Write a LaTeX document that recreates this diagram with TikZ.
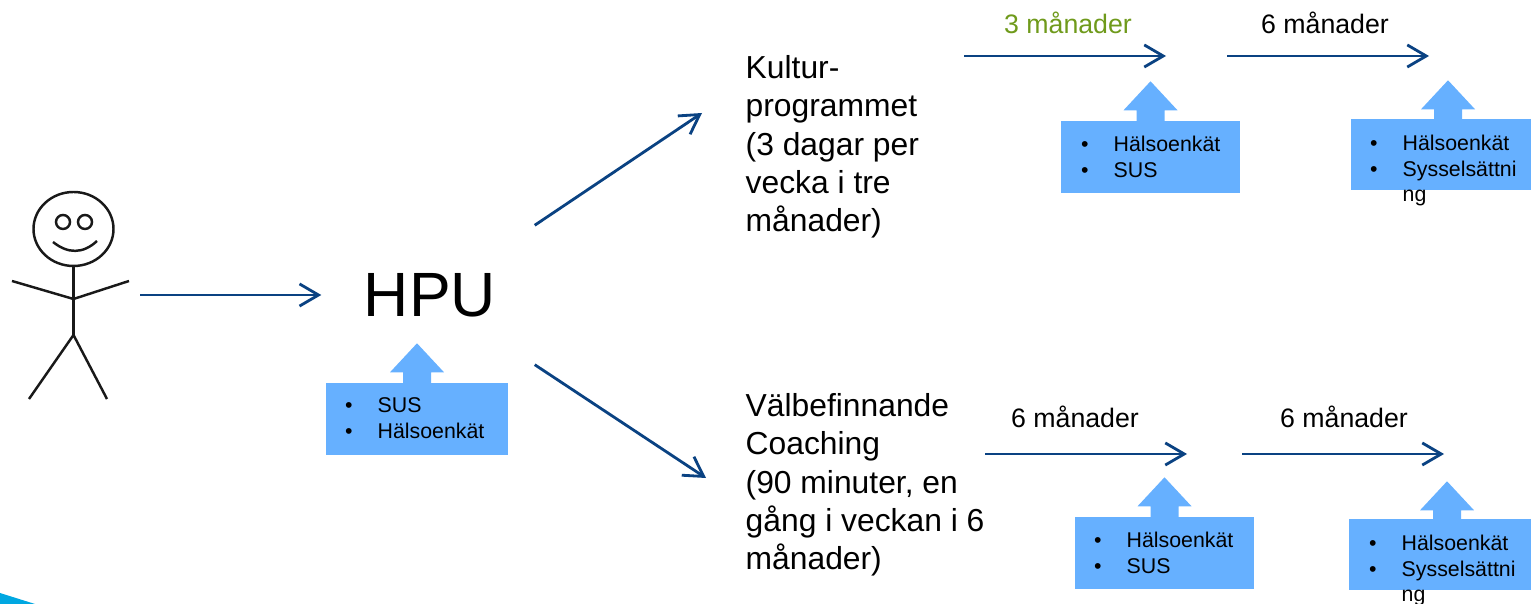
\documentclass[tikz,border=0pt]{standalone}
\usepackage{fontspec}
\setmainfont{Liberation Sans}
\usetikzlibrary{arrows.meta}

\definecolor{flowblue}{HTML}{0A4282}
\definecolor{obsblue}{HTML}{66B0FF}
\definecolor{swoosh}{HTML}{00A7E1}
\definecolor{monthgreen}{HTML}{6F9A1B}

\tikzset{
    figure/.style={draw=black!90, line width=0.7pt},
    flow/.style={draw=flowblue, line width=0.8pt, -{Straight Barb[length=5.4pt,width=6.3pt]}},
    program/.style={anchor=west, align=left, font=\fontsize{9.05}{10.9}\selectfont},
    months/.style={font=\fontsize{7.6}{9}\selectfont, inner sep=0pt},
    obsbox/.style={fill=obsblue, inner sep=0pt},
    obslist/.style={anchor=west, align=left, inner sep=0pt, font=\fontsize{6.07}{7.37}\selectfont},
}
\newcommand{\bul}[1]{\makebox[.327cm][l]{\textbullet}#1}
\newcommand{\obsarrow}[3]{\fill[obsblue] ([xshift=#2cm]#1.north) ++(0,#3) -- ++(.27,-.29) -- ++(-.13,0) -- ++(0,-.12) -- ++(-.28,0) -- ++(0,.12) -- ++(-.13,0) -- cycle;}

\begin{document}
\begin{tikzpicture}
    \useasboundingbox (0,0) rectangle (15.31,6.04);
    \fill[swoosh] (0,.11) -- (.35,0) -- (0,0) -- cycle;

    \draw[figure] (.735,3.75) ellipse (.40 and .37);
    \draw[figure] (.63,3.82) circle (.07);
    \draw[figure] (.85,3.82) circle (.07);
    \draw[figure] (.53,3.62) .. controls (.68,3.50) and (.83,3.50) .. (.97,3.63);
    \draw[figure] (.735,3.38)--(.735,2.69);
    \draw[figure] (.12,3.23)--(.735,3.05)--(1.29,3.23);
    \draw[figure] (.29,2.05)--(.735,2.69)--(1.07,2.05);
    \coordinate (person) at (1.40,3.09);

    \node[minimum width=2.12cm, minimum height=1.38cm, inner sep=0pt, font=\fontsize{17.8}{20}\selectfont] (hpu) at (4.28,3.09) {\hspace*{.04cm}\raisebox{-.05cm}{HPU}};
    \node[program, inner xsep=.43cm] (kultur) at (7.02,4.57) {Kultur-\\programmet\\(3 dagar per\\vecka i tre\\månader)};
    \node[program, inner xsep=.39cm] (coaching) at (7.06,1.19) {Välbefinnande\\Coaching\\(90 minuter, en\\gång i veckan i 6\\månader)};

    \draw[flow] (person) -- (hpu.west);
    \draw[flow] (hpu.north east) -- ([yshift=.34cm]kultur.west);
    \draw[flow] (hpu.south east) -- ([yshift=.07cm]coaching.west);

    \coordinate (ka) at (9.64,5.48);
    \coordinate (kb) at (11.66,5.48);
    \coordinate (kc) at (12.27,5.48);
    \coordinate (kd) at (14.29,5.48);
    \coordinate (ca) at (9.85,1.50);
    \coordinate (cb) at (11.87,1.50);
    \coordinate (cc) at (12.42,1.50);
    \coordinate (cd) at (14.44,1.50);
    \draw[flow] (ka) -- (kb);
    \draw[flow] (kc) -- (kd);
    \draw[flow] (ca) -- (cb);
    \draw[flow] (cc) -- (cd);
    \node[months, text=monthgreen] (kmonths1) at (10.68,5.81) {3 månader};
    \node[months] (kmonths2) at (13.25,5.81) {6 månader};
    \node[months] (cmonths1) at (10.75,1.87) {6 månader};
    \node[months] (cmonths2) at (13.44,1.87) {6 månader};

    \node[obsbox, minimum width=1.82cm, minimum height=.72cm] (hpubox) at (4.17,1.85) {};
    \node[obsbox, minimum width=1.79cm, minimum height=.72cm] (kbox1) at (11.505,4.47) {};
    \node[obsbox, minimum width=1.80cm, minimum height=.71cm] (kbox2) at (14.41,4.495) {};
    \node[obsbox, minimum width=1.79cm, minimum height=.72cm] (cbox1) at (11.645,.51) {};
    \node[obsbox, minimum width=1.82cm, minimum height=.71cm] (cbox2) at (14.40,.495) {};
    \obsarrow{hpubox}{0}{.39}
    \obsarrow{kbox1}{0}{.39}
    \obsarrow{kbox2}{.07}{.38}
    \obsarrow{cbox1}{0}{.39}
    \obsarrow{cbox2}{.07}{.37}

    \node[obslist] (hpulist) at (3.443,1.86) {\bul{SUS}\\\bul{Hälsoenkät}};
    \node[obslist] (klist1) at (10.803,4.47) {\bul{Hälsoenkät}\\\bul{SUS}};
    \node[obslist] (klist2) at (13.693,4.335) {\bul{Hälsoenkät}\\\bul{Sysselsättni}\\\hspace*{.327cm}ng};
    \node[obslist] (clist1) at (10.933,.51) {\bul{Hälsoenkät}\\\bul{SUS}};
    \node[obslist] (clist2) at (13.683,.335) {\bul{Hälsoenkät}\\\bul{Sysselsättni}\\\hspace*{.327cm}ng};
\end{tikzpicture}
\end{document}
